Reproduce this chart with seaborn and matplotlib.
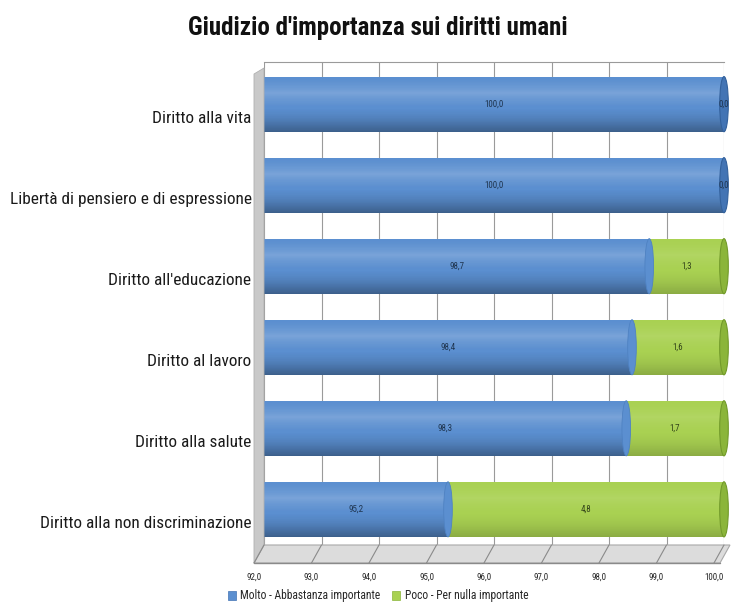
import numpy as np
import pandas as pd
import matplotlib
matplotlib.use("Agg")
import matplotlib.pyplot as plt
import seaborn as sns
from matplotlib import font_manager
from matplotlib.patches import Ellipse, Polygon, Patch
from matplotlib.lines import Line2D
from matplotlib.transforms import ScaledTranslation

categories = [
    "Diritto alla vita",
    "Libertà di pensiero e di espressione",
    "Diritto all'educazione",
    "Diritto al lavoro",
    "Diritto alla salute",
    "Diritto alla non discriminazione",
]
molto = [100.0, 100.0, 98.7, 98.4, 98.3, 95.2]
poco = [0.0, 0.0, 1.3, 1.6, 1.7, 4.8]
series_names = ["Molto - Abbastanza importante", "Poco - Per nulla importante"]
x_ticks = [92.0, 93.0, 94.0, 95.0, 96.0, 97.0, 98.0, 99.0, 100.0]

BLUE = "#5b8fd0"
BLUE_DARK = "#4374b4"
GREEN = "#a9d152"
GREEN_DARK = "#8bb53a"

# pick the narrowest sans family available
installed = {f.name for f in font_manager.fontManager.ttflist}
narrow = None
for cand in ["Liberation Sans Narrow", "Roboto Condensed", "Open Sans Condensed",
             "DejaVu Sans Condensed", "Roboto", "Liberation Sans"]:
    if cand in installed:
        narrow = cand
        break
FAMILY = [narrow, "DejaVu Sans"] if narrow else ["DejaVu Sans"]
is_condensed = narrow in ("Liberation Sans Narrow", "Roboto Condensed",
                          "Open Sans Condensed", "DejaVu Sans Condensed")

sns.set_theme(style="white")
plt.rcParams["font.family"] = FAMILY

W, H = 736, 611
fig = plt.figure(figsize=(W / 100, H / 100), dpi=100)

# plot box in pixel units (left, top, right, bottom)
L, T, R, B = 264, 62, 724, 545
ax = fig.add_axes([L / W, 1 - B / H, (R - L) / W, (B - T) / H])

df = pd.DataFrame({"categoria": categories, "molto": molto, "poco": poco})
df["totale"] = df["molto"] + df["poco"]

bar_h = 0.68
sns.barplot(data=df, x="totale", y="categoria", color=GREEN, saturation=1,
            width=bar_h, orient="h", ax=ax, linewidth=0)
sns.barplot(data=df, x="molto", y="categoria", color=BLUE, saturation=1,
            width=bar_h, orient="h", ax=ax, linewidth=0)

xmin, xmax = x_ticks[0], x_ticks[-1]
ax.set_xlim(xmin, xmax)
ax.set_ylim(5 + 0.44, -0.52)

# soft cylinder shading on each bar segment
n = 64
t = np.linspace(0, 1, n)
light = np.clip(1 - np.abs(t - 0.3) / 0.3, 0, 1) ** 1.5 * 0.10
dark = np.clip((t - 0.55) / 0.45, 0, 1) ** 1.6 * 0.18
shade = np.zeros((n, 1, 4))
shade[:, 0, :3] = np.where(light[:, None] > dark[:, None], 1.0, 0.0)
shade[:, 0, 3] = np.maximum(light, dark)
for p in list(ax.patches):
    x0 = max(p.get_x(), xmin)
    x1 = min(p.get_x() + p.get_width(), xmax)
    if x1 <= x0:
        continue
    y0 = p.get_y()
    h = p.get_height()
    im = ax.imshow(shade, extent=(x0, x1, y0 + h, y0), origin="upper",
                   aspect="auto", zorder=p.get_zorder() + 0.1, interpolation="bilinear")
    im.set_clip_path(p)
ax.set_xlim(xmin, xmax)
ax.set_ylim(5 + 0.44, -0.52)

# rounded ends of the cylinders and the seam between segments
cap_w = 0.15
for i, (m, q) in enumerate(zip(molto, poco)):
    end_col = (GREEN_DARK, "#729a2b") if q > 0 else (BLUE_DARK, "#33619c")
    ax.add_patch(Ellipse((m + q, i), cap_w, bar_h, facecolor=end_col[0],
                         edgecolor=end_col[1], lw=0.8, zorder=5, clip_on=False))
    if q > 0:
        ax.add_patch(Ellipse((m, i), cap_w, bar_h, facecolor=BLUE,
                             edgecolor="#4f82c2", lw=0.6, zorder=4))

# value labels
for i, (m, q) in enumerate(zip(molto, poco)):
    ax.text((xmin + min(m, xmax)) / 2, i, f"{m:.1f}".replace(".", ","),
            ha="center", va="center", fontsize=6.5, color="#1f3550", zorder=6)
    gx = m + q / 2 if q > 0 else xmax
    ax.text(gx, i, f"{q:.1f}".replace(".", ","), ha="center", va="center",
            fontsize=6.5, color="#1f3550" if q == 0 else "#33441a", zorder=6)

# back wall grid
ax.set_xticks(x_ticks)
ax.xaxis.grid(True, color="#9a9a9a", lw=0.8)
ax.yaxis.grid(False)
ax.set_axisbelow(True)
for s in ["left", "right", "bottom"]:
    ax.spines[s].set_visible(False)
ax.spines["top"].set_color("#9a9a9a")
ax.spines["top"].set_linewidth(0.8)

cat_size = 12.4 if is_condensed else 10
ax.set_xlabel("")
ax.set_ylabel("")
ax.set_xticklabels([f"{v:.1f}".replace(".", ",") for v in x_ticks], fontsize=6.5)
ax.tick_params(axis="x", length=0, pad=20)
ax.tick_params(axis="y", length=0, pad=9)
for lab in ax.get_yticklabels():
    lab.set_fontsize(cat_size)
    lab.set_color("#1a1a1a")
    lab.set_transform(lab.get_transform() + ScaledTranslation(0, -0.13, fig.dpi_scale_trans))
for lab in ax.get_xticklabels():
    lab.set_transform(lab.get_transform() + ScaledTranslation(-0.10, 0, fig.dpi_scale_trans))


def fp(x, y):
    return (x / W, 1 - y / H)


# floor and left wall of the 3D frame
dx, dy = -10, 18
floor = Polygon([fp(L, B), fp(R + 6, B), fp(R + 6 + dx, B + dy), fp(L + dx, B + dy)],
                closed=True, transform=fig.transFigure, facecolor="#dcdcdc",
                edgecolor="#a8a8a8", lw=0.8, zorder=0)
fig.patches.append(floor)
wall = Polygon([fp(L, T + 6), fp(L, B), fp(L + dx, B + dy), fp(L + dx, T + 12)],
               closed=True, transform=fig.transFigure, facecolor="#c9c9c9",
               edgecolor="#b0b0b0", lw=0.6, zorder=0)
fig.patches.append(wall)
for v in x_ticks:
    xb = L + (v - xmin) / (xmax - xmin) * (R - L)
    fig.lines.append(Line2D([fp(xb + dx, B + dy)[0], fp(xb, B)[0]],
                            [fp(xb + dx, B + dy)[1], fp(xb, B)[1]],
                            transform=fig.transFigure, color="#8a8a8a", lw=0.8))
fig.lines.append(Line2D([fp(L + dx, B + dy)[0], fp(R + 6 + dx, B + dy)[0]],
                        [fp(0, B + dy)[1]] * 2, transform=fig.transFigure,
                        color="#8a8a8a", lw=1.0))

title_size = 18 if is_condensed else 13.5
fig.text(378 / W, 1 - 28 / H, "Giudizio d'importanza sui diritti umani",
         ha="center", va="center", fontsize=title_size, fontweight="bold", color="#111111")

handles = [Patch(facecolor=BLUE, edgecolor=BLUE_DARK, lw=0.5),
           Patch(facecolor=GREEN, edgecolor=GREEN_DARK, lw=0.5)]
fig.legend(handles, series_names, loc="center", bbox_to_anchor=(378 / W, 1 - 596 / H),
           ncol=2, frameon=False, fontsize=8.3, handlelength=0.7, handleheight=0.9,
           handletextpad=0.4, columnspacing=1.0)

fig.savefig("out.png", dpi=100, facecolor="white")
